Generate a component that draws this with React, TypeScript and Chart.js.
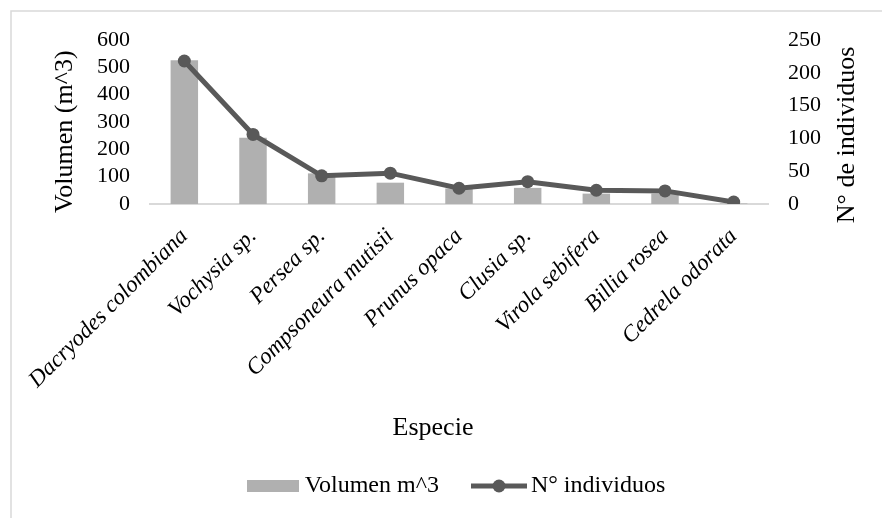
import React, { useEffect, useRef } from 'react';
import { Chart, registerables } from 'chart.js';
Chart.register(...registerables);

const categories = [
  'Dacryodes colombiana',
  'Vochysia sp.',
  'Persea sp.',
  'Compsoneura mutisii',
  'Prunus opaca',
  'Clusia sp.',
  'Virola sebifera',
  'Billia rosea',
  'Cedrela odorata',
];
const volumen = [526, 242, 112, 78, 57, 59, 38, 38, 2];
const individuos = [218, 106, 43, 47, 24, 34, 21, 20, 3];
const leftAxisMax = 600;
const leftAxisStep = 100;
const rightAxisMax = 250;
const rightAxisStep = 50;
const leftTitle = 'Volumen (m^3)';
const rightTitle = 'N° de individuos';
const xTitle = 'Especie';
const seriesNames = ['Volumen m^3', 'N° individuos'];

const FONT = "'Liberation Serif', 'Times New Roman', serif";
const BAR_COLOR = '#b0b0b0';
const LINE_COLOR = '#595959';

export default function App() {
  const ref = useRef<HTMLCanvasElement>(null);
  useEffect(() => {
    document.body.style.margin = '0';
    const canvas = ref.current!;

    const barImg = document.createElement('canvas');
    barImg.width = 52;
    barImg.height = 12;
    const bctx = barImg.getContext('2d')!;
    bctx.fillStyle = BAR_COLOR;
    bctx.fillRect(0, 0, 52, 12);

    const lineImg = document.createElement('canvas');
    lineImg.width = 56;
    lineImg.height = 14;
    const lctx = lineImg.getContext('2d')!;
    lctx.strokeStyle = LINE_COLOR;
    lctx.lineWidth = 5;
    lctx.beginPath();
    lctx.moveTo(0, 7);
    lctx.lineTo(56, 7);
    lctx.stroke();
    lctx.fillStyle = LINE_COLOR;
    lctx.beginPath();
    lctx.arc(28, 7, 6.5, 0, Math.PI * 2);
    lctx.fill();

    const framePlugin = {
      id: 'frame',
      beforeDraw(chart: any) {
        const ctx = chart.ctx;
        ctx.save();
        ctx.fillStyle = '#ffffff';
        ctx.fillRect(0, 0, chart.width, chart.height);
        ctx.strokeStyle = '#d9d9d9';
        ctx.lineWidth = 1.5;
        ctx.beginPath();
        ctx.moveTo(11, chart.height);
        ctx.lineTo(11, 11);
        ctx.lineTo(chart.width, 11);
        ctx.stroke();
        ctx.restore();
      },
    };

    const rightTitlePlugin = {
      id: 'rightTitle',
      afterDraw(chart: any) {
        const s = chart.scales.y1;
        const ctx = chart.ctx;
        ctx.save();
        ctx.translate(s.right - 35, (s.top + s.bottom) / 2 + 13);
        ctx.rotate(-Math.PI / 2);
        ctx.textAlign = 'center';
        ctx.textBaseline = 'middle';
        ctx.fillStyle = '#000';
        ctx.font = `26px ${FONT}`;
        ctx.fillText(rightTitle, 0, 0);
        ctx.restore();
      },
    };

    const chart = new Chart(canvas, {
      type: 'bar',
      data: {
        labels: categories,
        datasets: [
          {
            type: 'bar',
            label: seriesNames[0],
            data: volumen,
            yAxisID: 'y',
            backgroundColor: BAR_COLOR,
            barPercentage: 0.4,
            categoryPercentage: 1,
            order: 2,
          },
          {
            type: 'line',
            label: seriesNames[1],
            data: individuos,
            yAxisID: 'y1',
            borderColor: LINE_COLOR,
            backgroundColor: LINE_COLOR,
            borderWidth: 5,
            pointRadius: 6.5,
            pointBackgroundColor: LINE_COLOR,
            pointBorderWidth: 0,
            tension: 0,
            order: 1,
          } as any,
        ],
      },
      options: {
        responsive: false,
        animation: false,
        layout: { padding: { top: 40, bottom: 10, left: 0, right: 0 } },
        plugins: {
          tooltip: { enabled: false },
          legend: {
            position: 'bottom',
            fullSize: false,
            labels: {
              usePointStyle: true,
              pointStyleWidth: 40,
              boxHeight: 12,
              padding: 40,
              color: '#000',
              font: { family: FONT, size: 24 },
              generateLabels: () => [
                {
                  text: seriesNames[0],
                  pointStyle: barImg as any,
                  fillStyle: BAR_COLOR,
                  strokeStyle: 'transparent',
                  lineWidth: 0,
                  datasetIndex: 0,
                  hidden: false,
                },
                {
                  text: seriesNames[1],
                  pointStyle: lineImg as any,
                  fillStyle: LINE_COLOR,
                  strokeStyle: 'transparent',
                  lineWidth: 0,
                  datasetIndex: 1,
                  hidden: false,
                },
              ],
            },
          },
        },
        scales: {
          x: {
            grid: { display: false, drawTicks: false },
            border: { display: true, color: '#d9d9d9', width: 2 },
            ticks: {
              autoSkip: false,
              maxRotation: 45,
              minRotation: 45,
              padding: 19,
              color: '#000',
              font: { family: FONT, size: 23, style: 'italic' },
            },
            title: {
              display: true,
              text: xTitle + '        ',
              color: '#000',
              font: { family: FONT, size: 26 },
              padding: { top: 0, bottom: -10 },
            },
            afterFit: (s: any) => {
              s.height = 230;
            },
          },
          y: {
            position: 'left',
            min: 0,
            max: leftAxisMax,
            grid: { display: false, drawTicks: false },
            border: { display: false },
            ticks: {
              stepSize: leftAxisStep,
              autoSkip: false,
              padding: 20,
              color: '#000',
              font: { family: FONT, size: 22 },
            },
            title: {
              display: true,
              text: leftTitle + '   ',
              color: '#000',
              font: { family: FONT, size: 26 },
              padding: { top: 50, bottom: 0 },
            },
            afterFit: (s: any) => {
              s.width = 150;
            },
          },
          y1: {
            position: 'right',
            min: 0,
            max: rightAxisMax,
            grid: { display: false, drawTicks: false },
            border: { display: false },
            ticks: {
              stepSize: rightAxisStep,
              autoSkip: false,
              padding: 20,
              color: '#000',
              font: { family: FONT, size: 22 },
            },
            afterFit: (s: any) => {
              s.width = 114;
            },
          },
        },
      },
      plugins: [framePlugin, rightTitlePlugin],
    });
    return () => chart.destroy();
  }, []);
  return <canvas ref={ref} width={882} height={518} style={{ display: 'block' }} />;
}
